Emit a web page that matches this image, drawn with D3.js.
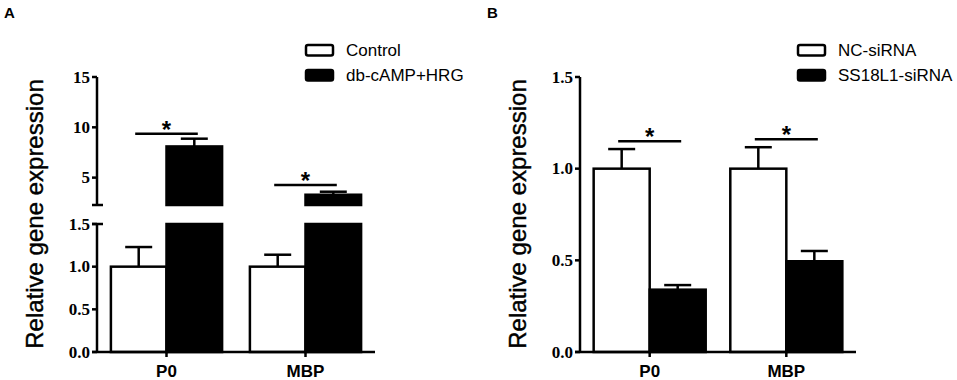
<!DOCTYPE html>
<html>
<head>
<meta charset="utf-8">
<script src="https://cdn.jsdelivr.net/npm/d3@7"></script>
<style>
	body { margin: 0; background: #fff; }
	svg { display: block; }
</style>
</head>
<body>
<div id="chart"></div>
<script>
// chart values
var categories = ["P0", "MBP"];

// panel A (broken axis)
var seriesA = ["Control", "db-cAMP+HRG"];
var controlMean = [1.0, 1.0];
var controlErr = [0.23, 0.14];
var treatedMean = [8.1, 3.3];
var treatedErr = [0.77, 0.3];
var sigA = [9.35, 4.27];
var ticksALow = [0, 0.5, 1.0, 1.5];
var ticksAHigh = [5, 10, 15];

// panel B
var seriesB = ["NC-siRNA", "SS18L1-siRNA"];
var ncMean = [1.0, 1.0];
var ncErr = [0.107, 0.117];
var siMean = [0.34, 0.495];
var siErr = [0.025, 0.056];
var sigB = [1.15, 1.16];
var ticksB = [0, 0.5, 1.0, 1.5];

var W = 957, H = 380,
	sw = 2.5,
	fills = ["#fff", "#000"],
	yTitle = "Relative gene expression",
	serif = "'Liberation Serif', 'Times New Roman', serif",
	sans = "'Liberation Sans', Arial, sans-serif";

var svg = d3.select("#chart").append("svg")
	.attr("width", W)
	.attr("height", H);

// own y axis: line + left ticks + serif labels
function drawYAxis(g, x0, scale, ticks, fmt) {
	var r = scale.range();
	g.append("line")
		.attr("x1", x0).attr("x2", x0)
		.attr("y1", r[0]).attr("y2", r[1])
		.attr("stroke", "#000").attr("stroke-width", sw);

	var t = g.selectAll(null)
		.data(ticks)
		.enter()
		.append("g")
		.attr("transform", function (d) {
			return "translate(" + x0 + "," + scale(d) + ")";
		});
	t.append("line")
		.attr("x1", -5).attr("x2", 0)
		.attr("stroke", "#000").attr("stroke-width", sw);
	t.append("text")
		.attr("x", -7)
		.attr("dy", "0.34em")
		.attr("text-anchor", "end")
		.style("font-family", serif)
		.style("font-weight", "bold")
		.style("font-size", "17px")
		.text(fmt);
}

function drawPanel(p) {
	var g = svg.append("g"),
		i, j;

	// panel letter
	g.append("text")
		.attr("x", p.x0 - 93)
		.attr("y", 18)
		.style("font-family", sans)
		.style("font-weight", "bold")
		.style("font-size", "15px")
		.text(p.letter);

	var x = d3.scaleBand()
		.domain(categories)
		.range([p.x0, p.x1])
		.paddingInner(p.padIn)
		.paddingOuter(p.padOut);

	var xs = d3.scaleBand()
		.domain([0, 1])
		.range([0, x.bandwidth()]);

	// y scales: lower and optional upper segment
	var yLow = d3.scaleLinear().domain(p.lowDomain).range([352, p.lowTop]);
	var yHigh = p.highDomain ? d3.scaleLinear().domain(p.highDomain).range([p.highBottom, 77]) : null;

	var rows = [];
	for (i = 0; i < categories.length; i++)
	{
		for (j = 0; j < 2; j++)
		{
			rows.push({
				cat: categories[i],
				s: j,
				mean: p.means[j][i],
				err: p.errs[j][i]
			});
		}
	}

	function yOf(v) {
		if (yHigh && v > p.lowDomain[1])
			return yHigh(v);
		return yLow(v);
	}

	var bars = g.append("g");
	rows.forEach(function (d) {
		var bx = x(d.cat) + xs(d.s),
			bw = xs.bandwidth(),
			cx = bx + bw / 2,
			ytop = yOf(d.mean),
			yerr = yOf(d.mean + d.err);

		// error bar first, bar drawn over it
		bars.append("line")
			.attr("x1", cx).attr("x2", cx)
			.attr("y1", ytop).attr("y2", yerr)
			.attr("stroke", "#000").attr("stroke-width", sw);
		bars.append("line")
			.attr("x1", cx - 13.5).attr("x2", cx + 13.5)
			.attr("y1", yerr).attr("y2", yerr)
			.attr("stroke", "#000").attr("stroke-width", sw);

		if (yHigh && d.mean > p.lowDomain[1])
		{
			bars.append("rect")
				.attr("x", bx).attr("width", bw)
				.attr("y", yLow(p.lowDomain[1]))
				.attr("height", yLow(0) - yLow(p.lowDomain[1]))
				.attr("fill", fills[d.s]).attr("stroke", "#000").attr("stroke-width", sw);
			bars.append("rect")
				.attr("x", bx).attr("width", bw)
				.attr("y", yHigh(d.mean))
				.attr("height", yHigh(p.highDomain[0]) - yHigh(d.mean))
				.attr("fill", fills[d.s]).attr("stroke", "#000").attr("stroke-width", sw);
		}
		else
		{
			bars.append("rect")
				.attr("x", bx).attr("width", bw)
				.attr("y", ytop)
				.attr("height", yLow(0) - ytop)
				.attr("fill", fills[d.s]).attr("stroke", "#000").attr("stroke-width", sw);
		}
	});

	// significance lines and stars
	categories.forEach(function (c, k) {
		var ly = yOf(p.sig[k]),
			xa = x(c) + xs(0) + xs.bandwidth() / 2 - 3.5,
			xb = x(c) + xs(1) + xs.bandwidth() / 2 + 3.5;
		g.append("line")
			.attr("x1", xa).attr("x2", xb)
			.attr("y1", ly).attr("y2", ly)
			.attr("stroke", "#000").attr("stroke-width", sw);
		g.append("text")
			.attr("x", (xa + xb) / 2)
			.attr("y", ly + 4)
			.attr("text-anchor", "middle")
			.style("font-family", sans)
			.style("font-weight", "bold")
			.style("font-size", "24px")
			.text("*");
	});

	// y axes
	drawYAxis(g, p.x0, yLow, p.lowTicks, d3.format(".1f"));

	if (yHigh)
	{
		drawYAxis(g, p.x0, yHigh, ticksAHigh, d3.format("d"));

		// break caps
		[yLow(p.lowDomain[1]), yHigh(p.highDomain[0])].forEach(function (yy) {
			g.append("line")
				.attr("x1", p.x0 - 5).attr("x2", p.x0 + 6)
				.attr("y1", yy).attr("y2", yy)
				.attr("stroke", "#000").attr("stroke-width", sw);
		});
	}

	// x axis
	var axX = g.append("g")
		.attr("transform", "translate(0,352)")
		.call(d3.axisBottom(x).tickSize(5).tickPadding(8));
	axX.select(".domain").remove();
	axX.selectAll(".tick line").attr("stroke-width", sw);
	axX.selectAll(".tick text")
		.attr("fill", "#000")
		.style("font-family", sans)
		.style("font-weight", "bold")
		.style("font-size", "17px");
	g.append("line")
		.attr("x1", p.x0 - 5).attr("x2", p.x1)
		.attr("y1", 352).attr("y2", 352)
		.attr("stroke", "#000").attr("stroke-width", sw);

	// y title
	g.append("text")
		.attr("transform", "translate(" + (p.x0 - 54) + ",214) rotate(-90)")
		.attr("text-anchor", "middle")
		.attr("stroke", "#000")
		.attr("stroke-width", 0.4)
		.style("font-family", sans)
		.style("font-size", "24px")
		.text(yTitle);

	// legend
	var lg = g.append("g")
		.attr("transform", "translate(" + p.legX + ",0)");
	p.series.forEach(function (s, k) {
		lg.append("rect")
			.attr("x", 0).attr("y", 45 + k * 25)
			.attr("width", 27).attr("height", 10.5)
			.attr("rx", 2)
			.attr("fill", fills[k])
			.attr("stroke", "#000").attr("stroke-width", sw);
		lg.append("text")
			.attr("x", 40).attr("y", 56 + k * 25)
			.style("font-family", sans)
			.style("font-size", "17px")
			.text(s);
	});
}

drawPanel({
	letter: "A",
	x0: 97, x1: 375,
	padIn: 0.2, padOut: 0.1,
	lowDomain: [0, 1.5], lowTop: 224,
	highDomain: [2.28, 15], highBottom: 205,
	lowTicks: ticksALow,
	means: [controlMean, treatedMean],
	errs: [controlErr, treatedErr],
	sig: sigA,
	series: seriesA,
	legX: 306
});

drawPanel({
	letter: "B",
	x0: 580, x1: 856,
	padIn: 0.18, padOut: 0.1,
	lowDomain: [0, 1.5], lowTop: 77,
	highDomain: null,
	lowTicks: ticksB,
	means: [ncMean, siMean],
	errs: [ncErr, siErr],
	sig: sigB,
	series: seriesB,
	legX: 798
});
</script>
</body>
</html>
